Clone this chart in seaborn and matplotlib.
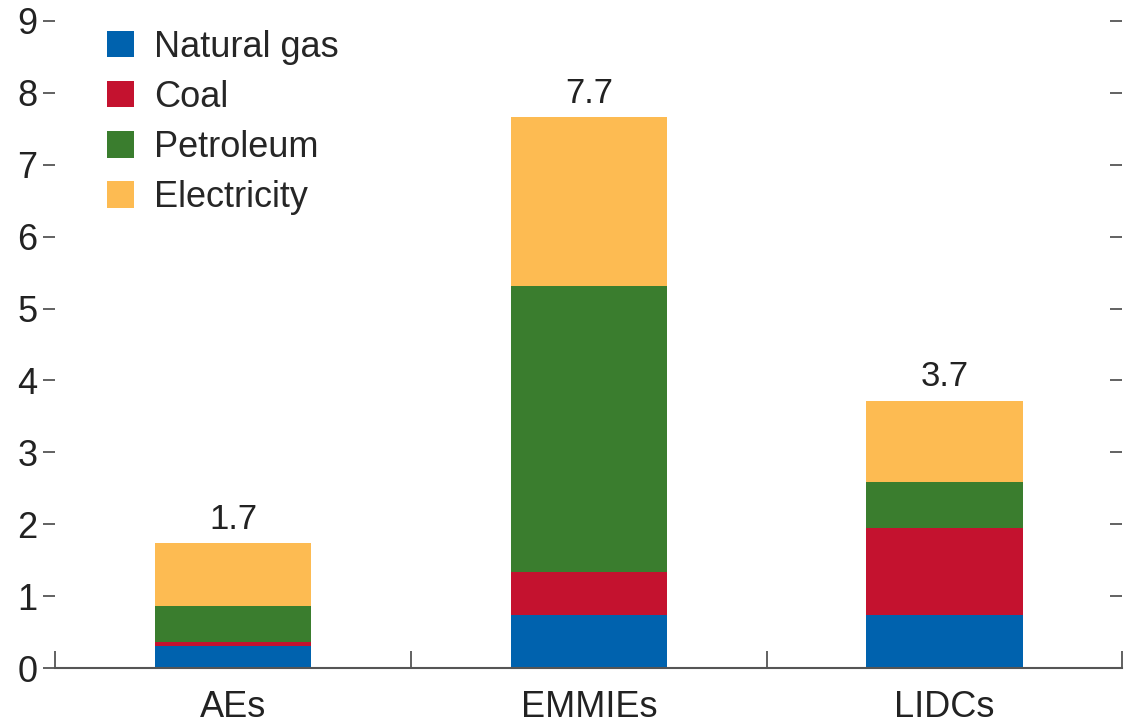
import numpy as np
import matplotlib
matplotlib.use("Agg")
import matplotlib.pyplot as plt
import pandas as pd
import seaborn as sns
from matplotlib.patches import Patch

# 数据
categories = ["AEs", "EMMIEs", "LIDCs"]
series_names = ["Natural gas", "Coal", "Petroleum", "Electricity"]
natural_gas = [0.31, 0.74, 0.74]
coal = [0.05, 0.59, 1.21]
petroleum = [0.50, 3.98, 0.64]
electricity = [0.88, 2.35, 1.13]
colors = ["#0062AE", "#C4122F", "#3A7D2E", "#FDBB52"]

sns.set_style("white")
plt.rcParams['font.family'] = ['Liberation Sans Narrow', 'Liberation Sans', 'DejaVu Sans']

df = pd.DataFrame({"category": categories,
                   "Natural gas": natural_gas,
                   "Coal": coal,
                   "Petroleum": petroleum,
                   "Electricity": electricity})

fig = plt.figure(figsize=(11.27, 7.23), dpi=100)
ax = fig.add_axes([0.049, 0.076, 0.947, 0.895])

# 堆叠：从上往下画累计值
cum = df[series_names].cumsum(axis=1)
for name, col in reversed(list(zip(series_names, colors))):
    sns.barplot(x=df["category"], y=cum[name], color=col, width=0.44,
                saturation=1, linewidth=0, edgecolor="none", ax=ax, zorder=2)

totals = df[series_names].sum(axis=1)
for i, t in enumerate(totals):
    ax.text(i, t + 0.1, f"{t:.1f}", ha="center", va="bottom", fontsize=25, color="#222222")

ax.set_xlim(-0.5, 2.5)
ax.set_ylim(0, 9)
ax.set_yticks(range(0, 10))
ax.set_xlabel("")
ax.set_ylabel("")

for s in ["top", "left", "right"]:
    ax.spines[s].set_visible(False)
ax.spines["bottom"].set_color("#555555")
ax.spines["bottom"].set_linewidth(1.5)

ax.tick_params(axis="y", left=True, direction="out", length=9,
               width=1.3, color="#555555", labelsize=26, labelcolor="#222222", pad=4)
ax.tick_params(axis="x", bottom=False, labelsize=26, labelcolor="#222222", pad=12)

# 右侧刻度线：朝内
ax2 = ax.secondary_yaxis("right")
ax2.set_yticks(range(1, 10))
ax2.tick_params(direction="in", length=9, width=1.3, color="#555555", labelright=False)
ax2.spines["right"].set_visible(False)

# 类别之间的小刻度
ax.set_xticks([-0.5, 0.5, 1.5, 2.5], minor=True)
ax.tick_params(axis="x", which="minor", bottom=True, direction="in", length=12,
               width=1.3, color="#555555")

handles = [Patch(facecolor=c, edgecolor="none") for c in colors]
ax.legend(handles, series_names, loc="upper left", bbox_to_anchor=(0.028, 1.02),
          frameon=False, fontsize=26, handlelength=0.75, handleheight=0.75,
          handletextpad=0.55, labelspacing=0.42, borderaxespad=0.2)

fig.savefig("out.png", dpi=100)
